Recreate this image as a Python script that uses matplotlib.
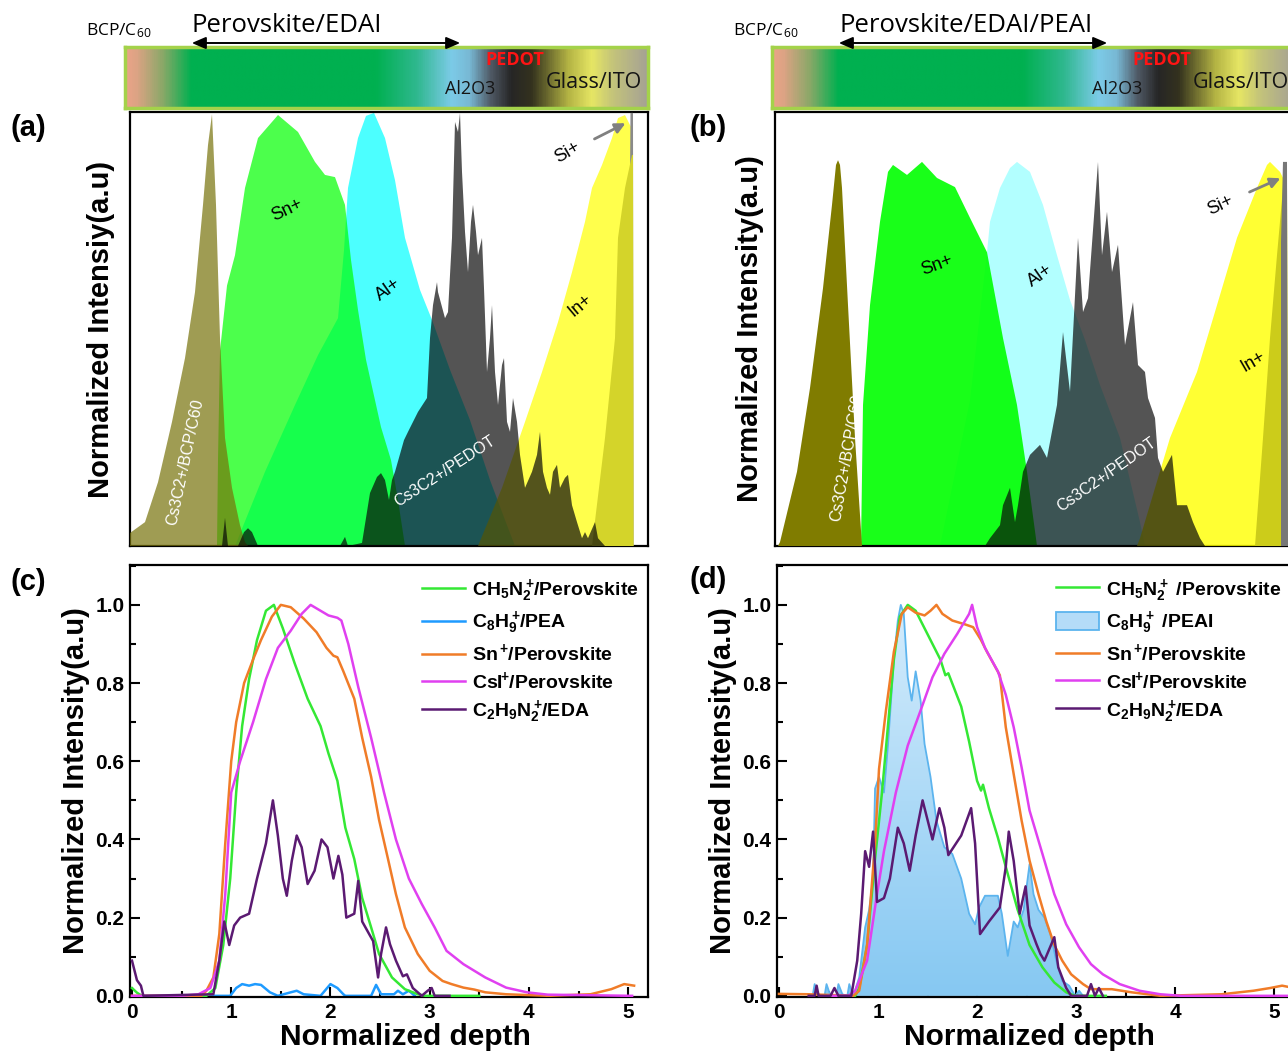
import numpy as np
import matplotlib
matplotlib.use("Agg")
import matplotlib.pyplot as plt
from matplotlib.colors import LinearSegmentedColormap
from matplotlib.patches import FancyArrowPatch, Patch
from matplotlib.ticker import MultipleLocator, FormatStrFormatter

plt.rcParams['font.family'] = ['Liberation Sans', 'DejaVu Sans']
plt.rcParams['mathtext.default'] = 'regular'

# ---------------- depth profiles, panel (a): Perovskite/EDAI ----------------
bcp_x_a = [0.00, 0.15, 0.28, 0.42, 0.55, 0.65, 0.73, 0.78, 0.82, 0.86, 0.90, 0.95, 1.02, 1.10, 1.15, 1.18]
bcp_y_a = [0.030, 0.055, 0.147, 0.286, 0.433, 0.585, 0.786, 0.924, 0.995, 0.786, 0.479, 0.249, 0.134, 0.048, 0.009, 0.0]
sn_x_a = [0.87, 0.88, 0.90, 0.97, 1.05, 1.15, 1.28, 1.48, 1.68, 1.85, 1.95, 2.05, 2.15, 2.21, 2.28, 2.36, 2.51, 2.61, 2.68, 2.75]
sn_y_a = [0, 0.2, 0.45, 0.60, 0.670, 0.825, 0.940, 0.993, 0.954, 0.885, 0.855, 0.850, 0.786, 0.659, 0.544, 0.429, 0.274, 0.198, 0.106, 0]
al_x_a = [1.05, 1.35, 1.65, 1.88, 2.08, 2.14, 2.18, 2.28, 2.36, 2.44, 2.55, 2.65, 2.75, 2.90, 3.02, 3.20, 3.40, 3.60, 3.75, 3.85]
al_y_a = [0, 0.171, 0.325, 0.440, 0.525, 0.682, 0.825, 0.940, 0.991, 0.998, 0.940, 0.843, 0.710, 0.590, 0.521, 0.406, 0.290, 0.152, 0.060, 0]
in_x_a = [3.48, 3.72, 3.95, 4.12, 4.28, 4.42, 4.55, 4.62, 4.72, 4.82, 4.88, 4.95, 5.00, 5.03, 5.035]
in_y_a = [0, 0.134, 0.286, 0.401, 0.516, 0.631, 0.747, 0.825, 0.878, 0.940, 0.986, 0.993, 0.970, 0.959, 0]
ito_x_a = [4.62, 4.75, 4.85, 4.88, 4.95, 5.02, 5.03, 5.035]
ito_y_a = [0, 0.249, 0.479, 0.710, 0.825, 0.901, 0.901, 0]
si_x_a = [4.995, 5.005, 5.03, 5.035]
si_y_a = [0.70, 0.998, 0.998, 0]
pedot_x_a = [0.85, 0.92, 0.95, 0.98, 1.08, 1.14, 1.18, 1.22, 1.28, 2.10,
             2.15, 2.18, 2.32, 2.40, 2.47, 2.51, 2.55, 2.59, 2.62, 2.65,
             2.74, 2.78, 2.88, 2.97, 3.00, 3.03, 3.07, 3.08, 3.15, 3.18,
             3.22, 3.25, 3.28, 3.30, 3.32, 3.35, 3.38, 3.41, 3.43, 3.46,
             3.48, 3.52, 3.54, 3.57, 3.60, 3.62, 3.65, 3.68, 3.72, 3.74,
             3.77, 3.80, 3.83, 3.87, 3.90, 3.95, 4.02, 4.07, 4.10, 4.13,
             4.17, 4.20, 4.23, 4.27, 4.30, 4.35, 4.38, 4.42, 4.47, 4.52,
             4.55, 4.58, 4.65, 4.68, 4.75]
pedot_y_a = [0, 0, 0.065, 0, 0, 0.032, 0.041, 0.032, 0, 0,
             0.021, 0, 0.007, 0.122, 0.159, 0.168, 0.152, 0.106, 0.152, 0.171,
             0.244, 0.263, 0.309, 0.341, 0.479, 0.555, 0.608, 0.585, 0.525, 0.539,
             0.710, 0.977, 0.954, 0.998, 0.862, 0.724, 0.631, 0.747, 0.786, 0.724,
             0.670, 0.710, 0.594, 0.401, 0.479, 0.555, 0.401, 0.325, 0.417, 0.433,
             0.286, 0.263, 0.341, 0.286, 0.210, 0.134, 0.171, 0.210, 0.263, 0.171,
             0.134, 0.118, 0.171, 0.187, 0.134, 0.157, 0.164, 0.094, 0.055, 0.018,
             0.032, 0.018, 0.055, 0.018, 0]

# ---------------- depth profiles, panel (b): Perovskite/EDAI/PEAI ----------------
bcp_x_b = [0.03, 0.05, 0.22, 0.35, 0.48, 0.57, 0.61, 0.63, 0.65, 0.67, 0.73, 0.80, 0.87]
bcp_y_b = [0, 0.009, 0.171, 0.364, 0.594, 0.786, 0.878, 0.889, 0.878, 0.825, 0.555, 0.249, 0]
sn_x_b = [0.86, 0.88, 0.95, 1.05, 1.13, 1.18, 1.32, 1.47, 1.62, 1.80, 1.95, 2.12, 2.28, 2.42, 2.52, 2.62]
sn_y_b = [0, 0.325, 0.555, 0.747, 0.862, 0.878, 0.855, 0.885, 0.848, 0.827, 0.756, 0.677, 0.479, 0.325, 0.171, 0.0]
al_x_b = [1.65, 1.95, 2.12, 2.15, 2.25, 2.35, 2.42, 2.55, 2.68, 2.82, 2.95, 3.10, 3.25, 3.45, 3.65, 3.70]
al_y_b = [0, 0.336, 0.677, 0.747, 0.825, 0.871, 0.885, 0.862, 0.786, 0.670, 0.567, 0.475, 0.371, 0.249, 0.055, 0]
in_x_b = [3.62, 3.65, 3.95, 4.22, 4.42, 4.62, 4.82, 4.92, 4.95, 5.05, 5.12, 5.13]
in_y_b = [0, 0.018, 0.249, 0.401, 0.555, 0.710, 0.825, 0.878, 0.885, 0.862, 0.83, 0]
ito_x_b = [4.80, 4.88, 4.95, 5.02, 5.08, 5.12, 5.13]
ito_y_b = [0, 0.249, 0.479, 0.670, 0.825, 0.83, 0]
si_x_b = [5.06, 5.08, 5.12, 5.13]
si_y_b = [0.70, 0.885, 0.885, 0]
pedot_x_b = [2.10, 2.15, 2.25, 2.28, 2.35, 2.40, 2.43, 2.48, 2.55, 2.65, 2.72, 2.82, 2.88, 2.95, 3.03, 3.08, 3.13, 3.23,
             3.27, 3.32, 3.37, 3.43, 3.50, 3.58, 3.63, 3.70, 3.73, 3.80, 3.83, 3.88, 3.97, 4.02, 4.12, 4.18, 4.25, 4.30]
pedot_y_b = [0, 0.018, 0.048, 0.094, 0.134, 0.055, 0.094, 0.171, 0.210, 0.233, 0.203, 0.325, 0.493, 0.355, 0.710, 0.539, 0.571, 0.885,
             0.670, 0.770, 0.631, 0.694, 0.463, 0.562, 0.417, 0.401, 0.341, 0.295, 0.203, 0.171, 0.210, 0.094, 0.094, 0.055, 0.018, 0]

# ---------------- ToF-SIMS line profiles, panel (c) ----------------
fa_x_c = [0, 0.05, 0.10, 0.5, 0.75, 0.84, 0.92, 0.99, 1.05, 1.11, 1.18, 1.26, 1.35, 1.43, 1.52, 1.64, 1.77, 1.90, 1.98, 2.07,
          2.15, 2.24, 2.32, 2.41, 2.49, 2.62, 2.75, 2.88, 2.96, 3.5]
fa_y_c = [0.02, 0.008, 0, 0, 0, 0.02, 0.13, 0.30, 0.52, 0.69, 0.81, 0.91, 0.985, 1.0, 0.94, 0.85, 0.76, 0.69, 0.62, 0.55,
          0.43, 0.35, 0.25, 0.175, 0.107, 0.047, 0.017, 0.004, 0, 0]
pea_x_c = [0.79, 0.99, 1.05, 1.11, 1.18, 1.24, 1.30, 1.39, 1.47, 1.60, 1.66, 1.73, 1.90, 2.00, 2.07, 2.13, 2.15, 2.41, 2.46,
           2.51, 2.64, 2.68, 2.73, 2.79, 2.85]
pea_y_c = [0, 0, 0.02, 0.03, 0.026, 0.03, 0.028, 0.009, 0, 0.009, 0.013, 0.004, 0, 0.03, 0.02, 0.004, 0, 0, 0.028,
           0.004, 0.004, 0.013, 0.004, 0.013, 0]
sn_x_c = [0, 0.5, 0.70, 0.75, 0.82, 0.88, 0.94, 1.00, 1.05, 1.13, 1.22, 1.30, 1.41, 1.50, 1.60, 1.73, 1.86, 1.96, 2.03, 2.07,
          2.13, 2.24, 2.32, 2.41, 2.49, 2.58, 2.66, 2.75, 2.88, 3.00, 3.13, 3.22, 3.34, 3.45, 3.56, 3.77, 4.2, 4.62, 4.83, 4.96, 5.06]
sn_y_c = [0, 0, 0, 0.013, 0.047, 0.158, 0.39, 0.60, 0.70, 0.80, 0.86, 0.91, 0.97, 1.0, 0.994, 0.965, 0.93, 0.89, 0.87, 0.866,
          0.83, 0.76, 0.66, 0.56, 0.45, 0.35, 0.26, 0.175, 0.107, 0.064, 0.038, 0.030, 0.021, 0.016, 0.009, 0.004, 0, 0.004, 0.017, 0.03, 0.026]
csi_x_c = [0, 0.5, 0.67, 0.79, 0.88, 0.94, 1.00, 1.09, 1.22, 1.35, 1.47, 1.60, 1.71, 1.80, 1.90, 1.98, 2.07, 2.11, 2.18, 2.28,
           2.41, 2.54, 2.66, 2.79, 2.92, 3.05, 3.17, 3.34, 3.56, 3.77, 3.98, 4.19, 5.04]
csi_y_c = [0, 0, 0.004, 0.02, 0.09, 0.26, 0.52, 0.60, 0.70, 0.81, 0.89, 0.934, 0.977, 1.0, 0.985, 0.973, 0.967, 0.96, 0.90, 0.79,
           0.66, 0.52, 0.40, 0.30, 0.235, 0.175, 0.115, 0.081, 0.047, 0.021, 0.009, 0.003, 0]
eda_x_c = [0, 0.05, 0.09, 0.115, 0.82, 0.88, 0.93, 0.98, 1.03, 1.09, 1.18, 1.26, 1.35, 1.42, 1.47, 1.52, 1.56, 1.61, 1.66, 1.71,
           1.77, 1.84, 1.91, 1.97, 2.03, 2.08, 2.12, 2.16, 2.24, 2.28, 2.32, 2.39, 2.43, 2.48, 2.51, 2.56, 2.60, 2.66, 2.73, 2.77,
           2.83, 2.92, 2.98, 3.02, 3.05, 3.2]
eda_y_c = [0.09, 0.04, 0.026, 0, 0.004, 0.09, 0.19, 0.13, 0.18, 0.20, 0.21, 0.30, 0.39, 0.50, 0.41, 0.30, 0.256, 0.345, 0.41, 0.38,
           0.286, 0.32, 0.40, 0.38, 0.30, 0.358, 0.31, 0.20, 0.21, 0.294, 0.19, 0.158, 0.14, 0.047, 0.107, 0.175, 0.132, 0.09, 0.05, 0.055,
           0.02, 0, 0.013, 0.02, 0, 0]

# ---------------- ToF-SIMS line profiles, panel (d) ----------------
fa_x_d = [0.7, 0.77, 0.81, 0.89, 0.97, 1.04, 1.10, 1.16, 1.22, 1.30, 1.38, 1.51, 1.63, 1.68, 1.71, 1.84, 1.92, 2.00, 2.04, 2.06,
          2.12, 2.21, 2.29, 2.41, 2.53, 2.66, 2.78, 2.90, 2.99, 3.3]
fa_y_d = [0, 0, 0.02, 0.13, 0.35, 0.52, 0.69, 0.86, 0.97, 1.0, 0.985, 0.92, 0.86, 0.82, 0.825, 0.74, 0.65, 0.55, 0.525, 0.54,
          0.48, 0.405, 0.33, 0.22, 0.13, 0.073, 0.034, 0.009, 0, 0]
pea_x_d = [0.34, 0.36, 0.40, 0.46, 0.48, 0.52, 0.58, 0.60, 0.64, 0.69, 0.71, 0.75, 0.81, 0.87, 0.91, 0.95, 0.97, 1.01, 1.06, 1.10,
           1.16, 1.20, 1.23, 1.26, 1.30, 1.34, 1.38, 1.43, 1.47, 1.53, 1.59, 1.67, 1.75, 1.84, 1.92, 1.98, 2.02, 2.08, 2.21, 2.25,
           2.31, 2.37, 2.41, 2.47, 2.53, 2.57, 2.62, 2.68, 2.74, 2.80, 2.86, 2.93, 2.99, 3.03, 3.07]
pea_y_d = [0, 0.03, 0, 0, 0.03, 0, 0, 0.03, 0.004, 0, 0.03, 0, 0.047, 0.175, 0.22, 0.30, 0.53, 0.56, 0.52, 0.64,
           0.86, 0.96, 1.0, 0.977, 0.815, 0.755, 0.83, 0.755, 0.644, 0.56, 0.448, 0.38, 0.363, 0.30, 0.21, 0.183, 0.226, 0.256, 0.256, 0.21,
           0.102, 0.19, 0.175, 0.22, 0.337, 0.26, 0.22, 0.20, 0.158, 0.09, 0.038, 0.026, 0, 0.013, 0]
sn_x_d = [0, 0.3, 0.75, 0.81, 0.89, 0.97, 1.01, 1.08, 1.16, 1.24, 1.30, 1.38, 1.47, 1.53, 1.59, 1.65, 1.75, 1.88, 1.96, 2.04,
          2.10, 2.23, 2.29, 2.37, 2.45, 2.53, 2.62, 2.70, 2.78, 2.86, 2.95, 3.07, 3.15, 3.36, 3.56, 3.85, 4.47, 4.79, 4.96, 5.08, 5.2]
sn_y_d = [0.005, 0.004, 0, 0.013, 0.13, 0.39, 0.58, 0.73, 0.88, 0.977, 0.994, 0.98, 0.973, 0.985, 1.0, 0.977, 0.96, 0.95, 0.943, 0.91,
          0.88, 0.82, 0.687, 0.567, 0.448, 0.346, 0.26, 0.19, 0.13, 0.09, 0.055, 0.03, 0.017, 0.017, 0.009, 0, 0.004, 0.013, 0.02, 0.026, 0.02]
csi_x_d = [0.5, 0.7, 0.77, 0.89, 0.99, 1.06, 1.18, 1.30, 1.43, 1.55, 1.67, 1.80, 1.92, 1.95, 2.00, 2.08, 2.21, 2.29, 2.37, 2.45,
           2.53, 2.66, 2.78, 2.90, 3.03, 3.15, 3.27, 3.44, 3.64, 3.85, 4.06, 5.2]
csi_y_d = [0, 0, 0.013, 0.09, 0.26, 0.37, 0.52, 0.64, 0.73, 0.815, 0.875, 0.926, 0.977, 1.0, 0.943, 0.89, 0.83, 0.77, 0.687, 0.584,
           0.474, 0.363, 0.26, 0.183, 0.124, 0.081, 0.055, 0.03, 0.013, 0.004, 0, 0]
eda_x_d = [0.30, 0.36, 0.38, 0.40, 0.52, 0.56, 0.60, 0.73, 0.79, 0.83, 0.87, 0.91, 0.95, 0.99, 1.06, 1.12, 1.20, 1.26, 1.32, 1.38,
           1.45, 1.51, 1.55, 1.62, 1.67, 1.71, 1.84, 1.94, 1.98, 2.03, 2.12, 2.23, 2.29, 2.32, 2.37, 2.43, 2.49, 2.53, 2.60, 2.64,
           2.68, 2.78, 2.82, 2.90, 2.95, 3.11, 3.15, 3.19, 3.23, 3.27]
eda_y_d = [0, 0, 0.026, 0, 0, 0.02, 0, 0, 0.09, 0.21, 0.37, 0.33, 0.42, 0.24, 0.25, 0.30, 0.43, 0.39, 0.32, 0.41,
           0.50, 0.44, 0.40, 0.48, 0.43, 0.36, 0.41, 0.48, 0.39, 0.158, 0.19, 0.226, 0.33, 0.42, 0.345, 0.21, 0.28, 0.18, 0.132, 0.107,
           0.09, 0.15, 0.073, 0.02, 0, 0, 0.03, 0, 0.02, 0]

labels_c = [r'CH$_5$N$_2^+\!$/Perovskite', r'C$_8$H$_9^+\!$/PEA', r'S$n^+\!$/Perovskite',
            r'CsI$^{\!\!+}\!$/Perovskite', r'C$_2$H$_9$N$_2^+\!$/EDA']
labels_d = [r'CH$_5$N$_2^+$ /Perovskite', r'C$_8$H$_9^+$ /PEAI', r'S$n^+\!$/Perovskite',
            r'CsI$^{\!\!+}\!$/Perovskite', r'C$_2$H$_9$N$_2^+\!$/EDA']
depth_ticks = [0, 1, 2, 3, 4, 5]

# device stack colour strip (position along the stack, colour)
stack_stops = [(0.00, '#eaa488'), (0.02, '#dca384'), (0.07, '#8aa868'), (0.125, '#00b050'),
               (0.48, '#00b050'), (0.56, '#30b890'), (0.625, '#7ccbe8'), (0.66, '#78b8d4'),
               (0.70, '#505a66'), (0.74, '#262626'), (0.78, '#34321e'), (0.85, '#b4b444'),
               (0.895, '#e6e664'), (0.935, '#c4c47a'), (1.0, '#a6a294')]

# ---------------- colours ----------------
C_GREEN = '#34e834'
C_BLUE = '#1e9bff'
C_ORANGE = '#f07c28'
C_MAGENTA = '#e040f0'
C_PURPLE = '#5b1a72'

W, H = 1288, 1054
fig = plt.figure(figsize=(W / 100, H / 100), dpi=100)


def box(left, top, width, height):
    return [left / W, 1 - (top + height) / H, width / W, height / H]


def ftext(px, py, s, ha='center', **kw):
    fig.text(px / W, 1 - py / H, s, ha=ha, va='center', **kw)


ax_a = fig.add_axes(box(130, 112, 518, 434))
ax_b = fig.add_axes(box(775, 112, 518, 434))
ax_c = fig.add_axes(box(130, 565, 518, 432))
ax_d = fig.add_axes(box(777, 565, 517, 432))
bar_a = fig.add_axes(box(125, 47, 523, 61))
bar_b = fig.add_axes(box(772, 47, 523, 61))

HUM = ['Open Sans', 'DejaVu Sans']
stack_cmap = LinearSegmentedColormap.from_list('stack', stack_stops)
for bar in (bar_a, bar_b):
    bar.imshow(np.linspace(0, 1, 600)[None, :], aspect='auto', cmap=stack_cmap,
               extent=[0, 1, 0, 1], interpolation='bilinear')
    bar.set_xticks([])
    bar.set_yticks([])
    for sp in bar.spines.values():
        sp.set_color('#a4d24a')
        sp.set_linewidth(2.5)


def stack_labels(dx, title):
    ftext(119 + dx, 31, 'BCP/C$_{60}$', fontsize=12.5, family=HUM)
    ftext(192 + dx, 25, title, ha='left', fontsize=18.5, family=HUM)
    fig.add_artist(FancyArrowPatch(((189 + dx) / W, 1 - 43 / H), ((463 + dx) / W, 1 - 43 / H),
                                   transform=fig.transFigure, arrowstyle='<|-|>,head_length=0.7,head_width=0.3',
                                   mutation_scale=12, lw=1.4, color='black'))
    ftext(515 + dx, 60, 'PEDOT', fontsize=13, color='#ff1414', family=HUM, fontweight='bold')
    ftext(470 + dx, 89, 'Al2O3', fontsize=13, color='#151515', family=HUM)
    ftext(594 + dx, 83, 'Glass/ITO', fontsize=15.5, color='#151515', family=HUM)


stack_labels(0, 'Perovskite/EDAI')
stack_labels(647, 'Perovskite/EDAI/PEAI')


def shade(ax, x, y, color, alpha=1.0, z=1):
    ax.fill_between(x, 0, y, facecolor=color, alpha=alpha, linewidth=0, zorder=z)


# panel (a)
shade(ax_a, al_x_a, al_y_a, '#00ffff', 0.7, 1)
shade(ax_a, sn_x_a, sn_y_a, '#00ff00', 0.7, 2)
shade(ax_a, bcp_x_a, bcp_y_a, '#77720a', 0.7, 3)
shade(ax_a, in_x_a, in_y_a, '#ffff00', 0.7, 4)
shade(ax_a, si_x_a, si_y_a, '#8a8a8a', 1.0, 5)
shade(ax_a, ito_x_a, ito_y_a, '#d4d42a', 1.0, 6)
shade(ax_a, pedot_x_a, pedot_y_a, '#070707', 0.69, 7)

# panel (b)
shade(ax_b, al_x_b, al_y_b, '#00ffff', 0.3, 1)
shade(ax_b, sn_x_b, sn_y_b, '#00ff00', 0.9, 2)
shade(ax_b, bcp_x_b, bcp_y_b, '#807c00', 1.0, 3)
shade(ax_b, in_x_b, in_y_b, '#ffff00', 0.8, 4)
shade(ax_b, ito_x_b, ito_y_b, '#cccc1a', 1.0, 5)
shade(ax_b, si_x_b, si_y_b, '#777777', 1.0, 6)
shade(ax_b, pedot_x_b, pedot_y_b, '#070707', 0.69, 7)

for ax in (ax_a, ax_b):
    ax.set_xlim(0, 5.18)
    ax.set_ylim(0, 1.0)
    ax.set_xticks([])
    ax.set_yticks([])
    for sp in ax.spines.values():
        sp.set_linewidth(1.6)

SANS = ['Liberation Sans', 'DejaVu Sans']
ion_kw = dict(ha='center', va='center', fontsize=13, family=SANS, zorder=10)
white_kw = dict(ha='center', va='center', fontsize=11.5, family=SANS, color='white', zorder=10)

ax_a.text(1.57, 0.774, 'Sn+', rotation=25, **ion_kw)
ax_a.text(2.58, 0.590, 'Al+', rotation=35, **ion_kw)
ax_a.text(4.50, 0.555, 'In+', rotation=40, **ion_kw)
ax_a.text(4.37, 0.906, 'Si+', rotation=30, **ion_kw)
ax_a.text(0.55, 0.194, 'Cs3C2+/BCP/C60', rotation=78, **white_kw)
ax_a.text(3.15, 0.171, 'Cs3C2+/PEDOT', rotation=33, **white_kw)
ax_a.annotate('', xy=(4.98, 0.977), xytext=(4.62, 0.935),
              arrowprops=dict(arrowstyle='-|>,head_length=0.6,head_width=0.3', color='#808080', lw=2), zorder=10)

ax_b.text(1.62, 0.647, 'Sn+', rotation=20, **ion_kw)
ax_b.text(2.65, 0.624, 'Al+', rotation=35, **ion_kw)
ax_b.text(4.78, 0.424, 'In+', rotation=30, **ion_kw)
ax_b.text(4.45, 0.786, 'Si+', rotation=25, **ion_kw)
ax_b.text(0.72, 0.203, 'Cs3C2+/BCP/C60', rotation=80, **white_kw)
ax_b.text(3.32, 0.164, 'Cs3C2+/PEDOT', rotation=35, **white_kw)
ax_b.annotate('', xy=(5.08, 0.850), xytext=(4.72, 0.813),
              arrowprops=dict(arrowstyle='-|>,head_length=0.6,head_width=0.3', color='#808080', lw=2), zorder=10)

ax_a.set_ylabel('Normalized Intensiy(a.u)', fontsize=21, fontweight='bold', labelpad=11)
ax_b.set_ylabel('Normalized Intensity(a.u)', fontsize=21, fontweight='bold', labelpad=8)

# panel (c)
lw = 1.8
h_fa, = ax_c.plot(fa_x_c, fa_y_c, color=C_GREEN, lw=lw, zorder=3)
h_pea, = ax_c.plot(pea_x_c, pea_y_c, color=C_BLUE, lw=lw, zorder=2)
h_sn, = ax_c.plot(sn_x_c, sn_y_c, color=C_ORANGE, lw=lw, zorder=3)
h_csi, = ax_c.plot(csi_x_c, csi_y_c, color=C_MAGENTA, lw=lw, zorder=3)
h_eda, = ax_c.plot(eda_x_c, eda_y_c, color=C_PURPLE, lw=lw, zorder=4)
leg_kw = dict(loc='upper right', frameon=False, prop={'weight': 'bold', 'size': 14}, handlelength=2.2,
              handletextpad=0.35, labelspacing=0.3, borderaxespad=0.2)
ax_c.legend([h_fa, h_pea, h_sn, h_csi, h_eda], labels_c, bbox_to_anchor=(1.004, 1.0), **leg_kw)

# panel (d)
pea_poly = ax_d.fill_between(pea_x_d, 0, pea_y_d, facecolor='#a5d5f6', linewidth=0, zorder=2)
grad_cmap = LinearSegmentedColormap.from_list('pea', ['#86c8f2', '#d4ecfc'])
grad = ax_d.imshow(np.linspace(0, 1, 256)[:, None], extent=[0.3, 3.1, 0, 1.0], origin='lower',
                   aspect='auto', cmap=grad_cmap, zorder=2.1)
grad.set_clip_path(pea_poly.get_paths()[0], ax_d.transData)
ax_d.plot(pea_x_d, pea_y_d, color='#5cb4ee', lw=1.3, zorder=2.2)
g_fa, = ax_d.plot(fa_x_d, fa_y_d, color=C_GREEN, lw=lw, zorder=3)
g_sn, = ax_d.plot(sn_x_d, sn_y_d, color=C_ORANGE, lw=lw, zorder=3)
g_csi, = ax_d.plot(csi_x_d, csi_y_d, color=C_MAGENTA, lw=lw, zorder=3)
g_eda, = ax_d.plot(eda_x_d, eda_y_d, color=C_PURPLE, lw=lw, zorder=4)
g_pea = Patch(facecolor='#b4dcf8', edgecolor='#5cb4ee', linewidth=1.3)
ax_d.legend([g_fa, g_pea, g_sn, g_csi, g_eda], labels_d, bbox_to_anchor=(0.997, 1.0),
            handleheight=1.0, **leg_kw)

for ax, xl in ((ax_c, 0.531), (ax_d, 0.489)):
    ax.set_xlim(-0.02, 5.2)
    ax.set_ylim(-0.003, 1.102)
    ax.set_xticks(depth_ticks)
    ax.xaxis.set_minor_locator(MultipleLocator(0.5))
    ax.yaxis.set_major_locator(MultipleLocator(0.2))
    ax.yaxis.set_minor_locator(MultipleLocator(0.1))
    ax.yaxis.set_major_formatter(FormatStrFormatter('%.1f'))
    ax.tick_params(which='both', direction='in', top=False, right=False, width=1.5, labelsize=15, pad=4)
    ax.tick_params(which='major', length=7)
    ax.tick_params(which='minor', length=4)
    for lbl in ax.get_xticklabels() + ax.get_yticklabels():
        lbl.set_fontweight('bold')
    for sp in ax.spines.values():
        sp.set_linewidth(1.6)
    ax.set_xlabel('Normalized depth', fontsize=21.5, fontweight='bold', labelpad=1)
    ax.xaxis.label.set_x(xl)
    ax.set_ylabel('Normalized Intensity(a.u)', fontsize=21, fontweight='bold', labelpad=4)

panel_kw = dict(fontsize=21, fontweight='bold', family=SANS)
ftext(28, 128, '(a)', **panel_kw)
ftext(708, 128, '(b)', **panel_kw)
ftext(28, 582, '(c)', **panel_kw)
ftext(708, 580, '(d)', **panel_kw)

fig.savefig('out.png', dpi=100)
